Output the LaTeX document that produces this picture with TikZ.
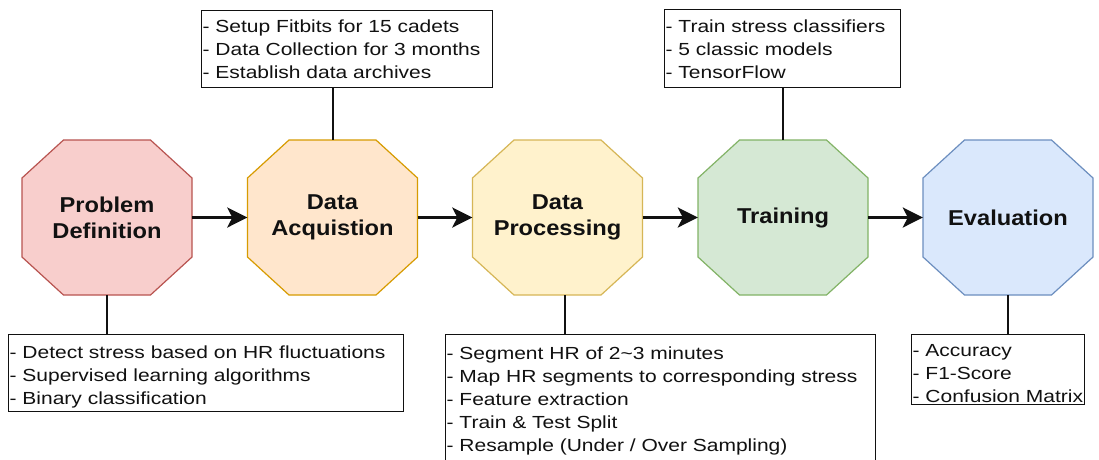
\documentclass[tikz,border=0pt]{standalone}
\usepackage{fontspec}
\setmainfont{Liberation Sans}
\newfontfamily\boxfont[FakeStretch=1.2]{Liberation Sans}
\newfontfamily\stagefont[FakeStretch=1.1]{Liberation Sans}
\usetikzlibrary{arrows.meta}

% stage colours (fill / stroke)
\definecolor{redfill}{HTML}{F8CECC}   \definecolor{redline}{HTML}{B85450}
\definecolor{orgfill}{HTML}{FFE6CC}   \definecolor{orgline}{HTML}{D79B00}
\definecolor{yelfill}{HTML}{FFF2CC}   \definecolor{yelline}{HTML}{D6B656}
\definecolor{grnfill}{HTML}{D5E8D4}   \definecolor{grnline}{HTML}{82B366}
\definecolor{blufill}{HTML}{DAE8FC}   \definecolor{bluline}{HTML}{6C8EBF}
\definecolor{ink}{HTML}{111111}

\tikzset{
  stagelabel/.style={minimum width=170pt, minimum height=155pt, inner sep=0pt,
    align=center, text=ink, font=\stagefont\bfseries\fontsize{21.5}{26}\selectfont},
  flow/.style={line width=3pt, draw=ink, -{Stealth[length=20pt, width=20pt, inset=5pt]}},
  link/.style={line width=2pt, draw=ink},
  infobox/.style={draw=ink, line width=1.3pt, fill=white, anchor=north west,
    inner xsep=1pt, inner ysep=0pt, align=left, text=ink,
    font=\boxfont\fontsize{17.5}{23}\selectfont},
}

% octagonal stage: name, centre x, centre y, fill, stroke, label
\newcommand\stage[6]{%
  \filldraw[fill=#4, draw=#5, line width=1.2pt]
    ({#2-85},{#3-39.5}) -- ({#2-85},{#3+39.5}) -- ({#2-43.5},{#3+77.5}) --
    ({#2+43.5},{#3+77.5}) -- ({#2+85},{#3+39.5}) -- ({#2+85},{#3-39.5}) --
    ({#2+43.5},{#3-77.5}) -- ({#2-43.5},{#3-77.5}) -- cycle;
  \node[stagelabel] (#1) at (#2,#3) {#6};
}
% note text with fixed space above the first baseline and below the last one
\newcommand\notetext[3]{\rule{0pt}{#1pt}#3\rule[-#2pt]{0pt}{#2pt}}

\begin{document}
\begin{tikzpicture}[x=1pt, y=-1pt]
  \useasboundingbox (0,0) rectangle (1099,459);
  \fill[white] (0,0) rectangle (1099,459);

  % pipeline stages
  \stage{pd}{107}{217.5}{redfill}{redline}{Problem\\Definition}
  \stage{acq}{332.5}{217.5}{orgfill}{orgline}{Data\\Acquistion}
  \stage{proc}{557.5}{217.5}{yelfill}{yelline}{Data\\Processing}
  \stage{train}{783}{217.5}{grnfill}{grnline}{Training}
  \stage{eval}{1008}{217.5}{blufill}{bluline}{Evaluation}

  % flow between stages
  \draw[flow] (pd) -- (acq);
  \draw[flow] (acq) -- (proc);
  \draw[flow] (proc) -- (train);
  \draw[flow] (train) -- (eval);

  % notes attached to each stage
  \node[infobox, text width=393pt] (pdbox) at (8,334)
    {\notetext{24}{7}{- Detect stress based on HR fluctuations\\- Supervised learning algorithms\\- Binary classification}};
  \node[infobox, text width=289pt] (acqbox) at (201,10)
    {\notetext{22}{9}{- Setup Fitbits for 15 cadets\\- Data Collection for 3 months\\- Establish data archives}};
  \node[infobox, text width=428pt] (procbox) at (445,334)
    {\notetext{25}{20}{- Segment HR of 2\char`~3 minutes\\- Map HR segments to corresponding stress\\- Feature extraction\\- Train \& Test Split\\- Resample (Under / Over Sampling)}};
  \node[infobox, text width=234pt] (trainbox) at (664,9)
    {\notetext{23}{9}{- Train stress classifiers\\- 5 classic models\\- TensorFlow}};
  \node[infobox, text width=171pt] (evalbox) at (911,334)
    {\notetext{21.5}{2.5}{- Accuracy\\- F1-Score\\- Confusion Matrix}};

  % connectors from stages to notes
  \draw[link] (pd.south) -- (pd.south |- pdbox.north);
  \draw[link] (acq.north) -- (acq.north |- acqbox.south);
  \draw[link] ([xshift=7.5pt]proc.south) -- ([xshift=7.5pt]proc.south |- procbox.north);
  \draw[link] (train.north) -- (train.north |- trainbox.south);
  \draw[link] (eval.south) -- (eval.south |- evalbox.north);
\end{tikzpicture}
\end{document}
